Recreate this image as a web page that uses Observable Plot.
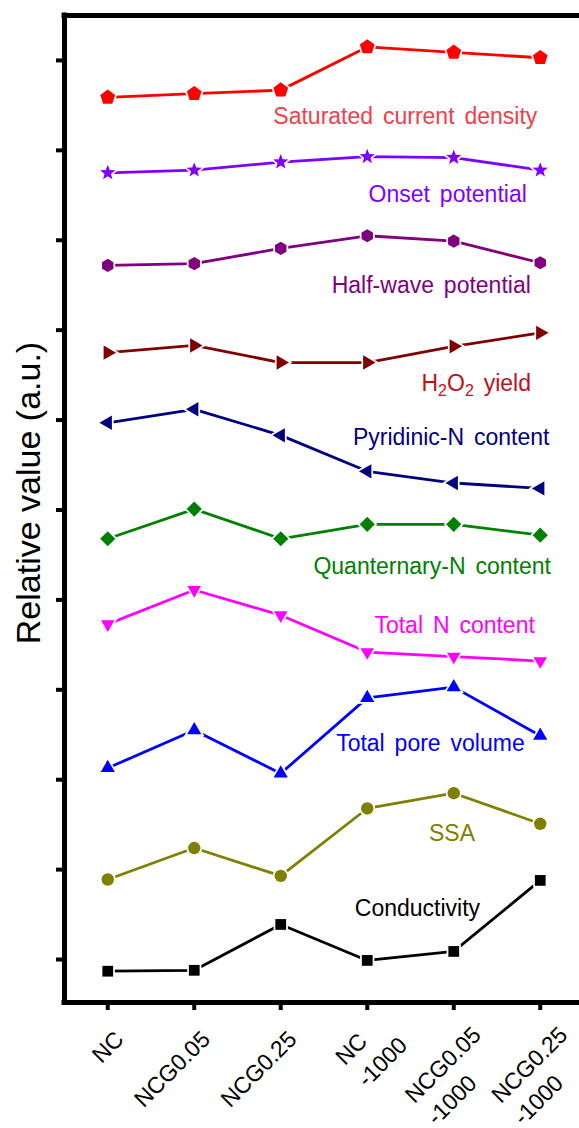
<!DOCTYPE html>
<html>
<head>
<meta charset="utf-8">
<script src="https://cdn.jsdelivr.net/npm/d3@7"></script>
<script src="https://cdn.jsdelivr.net/npm/@observablehq/plot@0.6"></script>
<style>
html, body { margin: 0; padding: 0; background: #fff; }
svg { display: block; }
</style>
</head>
<body>
<div id="chart"></div>
<script>
// ---- data ----
const categories = ["NC", "NCG0.05", "NCG0.25", "NC\n-1000", "NCG0.05\n-1000", "NCG0.25\n-1000"];
const yTicks = [0, 1, 2, 3, 4, 5, 6, 7, 8, 9, 10];

const saturatedCurrentDensity = [9.59, 9.63, 9.67, 10.15, 10.09, 10.03];
const onsetPotential          = [8.75, 8.78, 8.87, 8.93, 8.92, 8.78];
const halfWavePotential       = [7.72, 7.74, 7.91, 8.05, 7.99, 7.75];
const h2o2Yield               = [6.75, 6.83, 6.64, 6.64, 6.82, 6.97];
const pyridinicN              = [5.97, 6.12, 5.83, 5.43, 5.30, 5.24];
const quanternaryN            = [4.68, 5.01, 4.68, 4.84, 4.84, 4.72];
const totalN                  = [3.73, 4.11, 3.83, 3.42, 3.37, 3.32];
const totalPoreVolume         = [2.13, 2.55, 2.07, 2.91, 3.03, 2.49];
const ssa                     = [0.89, 1.24, 0.93, 1.68, 1.85, 1.51];
const conductivity            = [-0.13, -0.12, 0.39, -0.01, 0.09, 0.88];

const seriesNames = ["Saturated current density", "Onset potential", "Half-wave potential", "H2O2 yield",
  "Pyridinic-N content", "Quanternary-N content", "Total N content", "Total pore volume", "SSA", "Conductivity"];
const seriesValues = [saturatedCurrentDensity, onsetPotential, halfWavePotential, h2o2Yield,
  pyridinicN, quanternaryN, totalN, totalPoreVolume, ssa, conductivity];

// label anchors in data coordinates (category index, relative value)
const labelX = [3.44, 3.93, 3.74, 4.26, 3.97, 3.75, 4.01, 3.73, 3.98, 3.58];
const labelY = [9.38, 8.51, 7.49, 6.41, 5.81, 4.37, 3.71, 2.40, 1.40, 0.57];

// ---- styles ----
const seriesColors = ["#ff0000", "#8000ff", "#800080", "#800000", "#000080", "#008000", "#ff00ff", "#0000ff", "#808000", "#000000"];
const labelColors  = ["#f0404c", "#8000ff", "#800080", "#c0101a", "#000080", "#008000", "#ff00ff", "#0000ff", "#808000", "#000000"];

function polygon(n, a0) {
  return { draw(ctx, size) {
    const R = Math.sqrt(size / Math.PI);
    for (let k = 0; k < n; k++) {
      const a = a0 + 2 * Math.PI * k / n;
      const x = R * Math.sin(a), y = -R * Math.cos(a);
      k ? ctx.lineTo(x, y) : ctx.moveTo(x, y);
    }
    ctx.closePath();
  }};
}
const star = { draw(ctx, size) {
  const R = Math.sqrt(size / Math.PI), r = R * 0.42;
  for (let k = 0; k < 10; k++) {
    const a = Math.PI * k / 5, rr = k % 2 ? r : R;
    const x = rr * Math.sin(a), y = -rr * Math.cos(a);
    k ? ctx.lineTo(x, y) : ctx.moveTo(x, y);
  }
  ctx.closePath();
}};
const markerSymbols = [polygon(5, 0), star, polygon(6, 0), polygon(3, Math.PI / 2), polygon(3, -Math.PI / 2),
  polygon(4, 0), polygon(3, Math.PI), polygon(3, 0), "circle", polygon(4, Math.PI / 4)];
const markerR = [7.8, 8, 6.6, 8.3, 8.3, 7.6, 7.8, 8.2, 6.2, 7.6];

const idx = d3.range(categories.length);
const marks = [];

// frame
marks.push(Plot.ruleY([-0.478, 10.5], {stroke: "black", strokeWidth: 5, strokeLinecap: "square"}));
marks.push(Plot.ruleX([-0.5], {stroke: "black", strokeWidth: 5, strokeLinecap: "square"}));
marks.push(Plot.axisY(yTicks, {tickSize: 8, strokeWidth: 4, tickFormat: () => "", label: null}));
marks.push(Plot.axisX(idx, {tickSize: 8, strokeWidth: 4, tickFormat: () => "", label: null}));

seriesValues.forEach((vals, s) => {
  marks.push(Plot.line(vals, {x: (d, i) => i, y: d => d, stroke: seriesColors[s], strokeWidth: 2.8}));
});
seriesValues.forEach((vals, s) => {
  marks.push(Plot.dot(vals, {x: (d, i) => i, y: d => d, symbol: markerSymbols[s], r: markerR[s],
    fill: seriesColors[s], stroke: "white", strokeWidth: 3.5, paintOrder: "stroke"}));
});

marks.push(Plot.text(seriesNames, {x: (d, i) => labelX[i], y: (d, i) => labelY[i], text: d => d,
  fill: (d, i) => labelColors[i], fontSize: 23}));

// x tick labels
const single = idx.filter(i => !categories[i].includes("\n"));
const multiShort = idx.filter(i => categories[i].includes("\n") && categories[i].split("\n")[0].length <= 2);
const multiLong = idx.filter(i => categories[i].includes("\n") && categories[i].split("\n")[0].length > 2);
const xl = {x: d => d, frameAnchor: "bottom", text: d => categories[d], rotate: -45, fontSize: 23, fill: "black"};
marks.push(Plot.text(single, {...xl, textAnchor: "end", lineAnchor: "middle", dx: 12, dy: 33}));
marks.push(Plot.text(multiShort, {...xl, textAnchor: "start", lineAnchor: "top", lineHeight: 1.36, dx: -38, dy: 48}));
marks.push(Plot.text(multiLong, {...xl, textAnchor: "start", lineAnchor: "top", lineHeight: 1.36, dx: -55, dy: 86}));

// y axis title
marks.push(Plot.text(["Relative value (a.u.)"], {frameAnchor: "left", textAnchor: "middle", lineAnchor: "middle",
  rotate: -90, dx: -35, dy: -16, fontSize: 34, fill: "black"}));

const svg = Plot.plot({
  width: 579, height: 1128,
  marginLeft: 64, marginRight: 0, marginTop: 15, marginBottom: 126,
  x: {domain: [-0.5, 5.5], range: [64, 583]},
  y: {domain: [-0.478, 10.5]},
  color: {type: "identity"},
  style: {fontFamily: "'Liberation Sans', Arial, sans-serif", background: "white", overflow: "visible"},
  marks
});

// series label styling: wide word spacing, H2O2 subscripts
d3.select(svg).selectAll("text").each(function () {
  const txt = this.textContent;
  if (seriesNames.includes(txt)) d3.select(this).style("word-spacing", "3.5px");
  if (txt === "H2O2 yield") {
    const t = d3.select(this);
    t.text(null);
    t.append("tspan").text("H");
    t.append("tspan").attr("dy", 5).attr("font-size", 16).text("2");
    t.append("tspan").attr("dy", -5).text("O");
    t.append("tspan").attr("dy", 5).attr("font-size", 16).text("2");
    t.append("tspan").attr("dy", -5).text(" yield");
  }
});

document.getElementById("chart").appendChild(svg);
</script>
</body>
</html>
